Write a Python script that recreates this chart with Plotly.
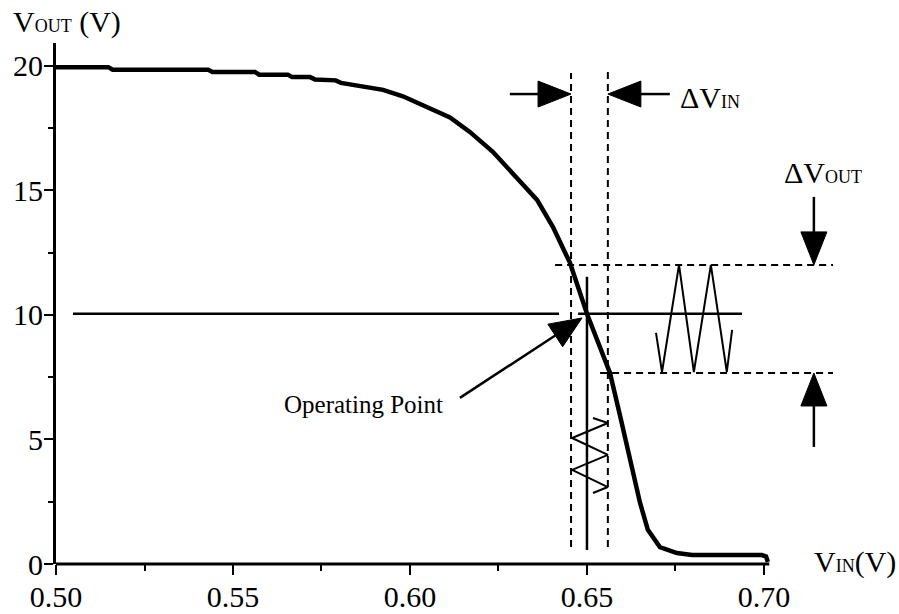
import math
import plotly.graph_objects as go

# ---------------- data ----------------
vin = [0.500, 0.5148, 0.5160, 0.5430, 0.5442, 0.5562, 0.5574, 0.5655, 0.5667,
       0.5718, 0.5732, 0.5790, 0.5805, 0.5859, 0.5924, 0.5980, 0.6028, 0.6113,
       0.6169, 0.6234, 0.6302, 0.6359, 0.6404, 0.6452, 0.6500, 0.6565, 0.6593,
       0.6621, 0.6650, 0.6672, 0.6706, 0.6754, 0.6797, 0.6994, 0.7006, 0.7011]
vout = [19.95, 19.95, 19.85, 19.85, 19.76, 19.76, 19.65, 19.65, 19.55,
        19.55, 19.45, 19.42, 19.32, 19.18, 19.04, 18.78, 18.48, 17.93,
        17.35, 16.55, 15.50, 14.62, 13.53, 12.09, 10.05, 7.67, 5.98,
        4.30, 2.45, 1.37, 0.68, 0.44, 0.36, 0.36, 0.30, 0.08]

x_tickvals = [0.50, 0.55, 0.60, 0.65, 0.70]
x_ticktext = ["0.50", "0.55", "0.60", "0.65", "0.70"]
x_minor = [0.525, 0.575, 0.625, 0.675]
y_tickvals = [0, 5, 10, 15, 20]
y_ticktext = ["0", "5", "10", "15", "20"]
y_minor = [2.5, 7.5, 12.5, 17.5]

# operating point and swing limits
op_vin = 0.65
op_vout = 10.05
dvin_lo, dvin_hi = 0.6455, 0.6559
dvout_lo, dvout_hi = 7.67, 12.01

# small-signal input wave (drawn along the input axis) and output wave
in_wave_x = [0.6517, 0.6559, 0.6458, 0.6559, 0.6458, 0.6559, 0.6517]
in_wave_y = [5.86, 5.66, 5.06, 4.38, 3.78, 3.09, 2.85]
out_wave_x = [0.6695, 0.6712, 0.6760, 0.6802, 0.6850, 0.6895, 0.6910]
out_wave_y = [9.28, 7.71, 12.01, 7.71, 12.01, 7.71, 9.40]

# ---------------- geometry ----------------
W, H = 899, 614
ML, MR, MT, MB = 56, 43, 43, 50
X_RANGE = [0.50, 0.726]
Y_RANGE = [0.0, 20.92]
PW, PH = W - ML - MR, H - MT - MB
kx = PW / (X_RANGE[1] - X_RANGE[0])   # px per volt (x)
ky = PH / (Y_RANGE[1] - Y_RANGE[0])   # px per volt (y)

FONT = "Liberation Serif, Times New Roman, serif"
BLACK = "black"

fig = go.Figure()


def add_line(xs, ys, width=2.5, dash=None):
    fig.add_trace(go.Scatter(x=xs, y=ys, mode="lines",
                             line=dict(color=BLACK, width=width, dash=dash),
                             hoverinfo="skip", showlegend=False))


def add_arrow(tip_x, tip_y, start_x, start_y, head_len=33, head_hw=13, width=2.5):
    dxp = (tip_x - start_x) * kx
    dyp = (tip_y - start_y) * ky
    n = math.hypot(dxp, dyp)
    ux, uy = dxp / n, dyp / n
    bx = tip_x - ux * head_len / kx
    by = tip_y - uy * head_len / ky
    c1 = (bx - uy * head_hw / kx, by + ux * head_hw / ky)
    c2 = (bx + uy * head_hw / kx, by - ux * head_hw / ky)
    add_line([start_x, bx], [start_y, by], width=width)
    fig.add_trace(go.Scatter(x=[tip_x, c1[0], c2[0], tip_x], y=[tip_y, c1[1], c2[1], tip_y],
                             mode="lines", fill="toself", fillcolor=BLACK,
                             line=dict(color=BLACK, width=1),
                             hoverinfo="skip", showlegend=False))


DASH = "7px,5px"

# dashed guide lines
add_line([dvin_lo, dvin_lo], [0.68, 19.72], width=2, dash=DASH)
add_line([dvin_hi, dvin_hi], [0.68, 19.96], width=2, dash=DASH)
add_line([0.6410, 0.7195], [dvout_hi, dvout_hi], width=2, dash=DASH)
add_line([0.6537, 0.7195], [dvout_lo, dvout_lo], width=2, dash=DASH)

# operating point cross-hair
add_line([0.5048, 0.6421], [op_vout, op_vout], width=2.5)
add_line([0.6475, 0.6938], [op_vout, op_vout], width=2.5)
add_line([op_vin, op_vin], [0.56, 11.53], width=2.5)

# small-signal waves
add_line(in_wave_x, in_wave_y, width=2)
add_line(out_wave_x, out_wave_y, width=2)

# transfer curve
add_line(vin, vout, width=4.5)

# arrows
arrow_y_in = 18.87
add_arrow(dvin_lo, arrow_y_in, 0.6282, arrow_y_in)
add_arrow(dvin_hi, arrow_y_in, 0.6734, arrow_y_in)
arrow_x_out = 0.7141
add_arrow(arrow_x_out, dvout_hi, arrow_x_out, 14.74)
add_arrow(arrow_x_out, dvout_lo, arrow_x_out, 4.70)
add_arrow(0.6486, 9.88, 0.6141, 6.67, head_len=32, head_hw=13.5)


def px_x(p):
    # figure pixel -> paper (plot-area) fraction
    return (p - ML) / PW


def px_y(p):
    return (H - MB - p) / PH


# x axis line (only up to the end of the data range)
x_axis_end = 0.7015
fig.add_shape(type="line", xref="paper", yref="paper",
              x0=0, x1=(x_axis_end - X_RANGE[0]) / (X_RANGE[1] - X_RANGE[0]),
              y0=0, y1=0, line=dict(color=BLACK, width=3))

BIG = 30
SMALL = 18


def label(text, left_px, baseline_px, size=BIG):
    center = baseline_px - 0.3375 * size
    fig.add_annotation(text=text, xref="paper", yref="paper",
                       x=px_x(left_px - 1), y=px_y(center),
                       xanchor="left", yanchor="middle", showarrow=False,
                       font=dict(family=FONT, size=size, color=BLACK))


sm = f"<span style='font-size:{SMALL}px'>"
label("V" + sm + "OUT</span> (V)", 12, 32)
label("ΔV" + sm + "IN</span>", 679, 108)
label("ΔV" + sm + "OUT</span>", 783, 183)
label("V" + sm + "IN</span>(V)", 813, 572)
label("Operating Point", 283, 413, size=25)

fig.update_layout(
    width=W, height=H,
    margin=dict(l=ML, r=MR, t=MT, b=MB, pad=0, autoexpand=False),
    paper_bgcolor="white", plot_bgcolor="white",
    showlegend=False,
    font=dict(family=FONT, color=BLACK),
    xaxis=dict(range=X_RANGE, showline=False, showgrid=False, zeroline=False,
               automargin=False,
               tickmode="array", tickvals=x_tickvals, ticktext=x_ticktext,
               ticks="outside", ticklen=10, tickwidth=2, tickcolor=BLACK,
               ticklabelstandoff=-4,
               tickfont=dict(family=FONT, size=BIG, color=BLACK),
               minor=dict(tickmode="array", tickvals=x_minor, ticks="outside",
                          ticklen=6, tickwidth=2, tickcolor=BLACK, showgrid=False)),
    yaxis=dict(range=Y_RANGE, showline=True, linewidth=3, linecolor=BLACK,
               showgrid=False, zeroline=False, automargin=False,
               tickmode="array", tickvals=y_tickvals, ticktext=y_ticktext,
               ticks="outside", ticklen=9, tickwidth=2, tickcolor=BLACK,
               ticklabelstandoff=-5,
               tickfont=dict(family=FONT, size=BIG, color=BLACK),
               minor=dict(tickmode="array", tickvals=y_minor, ticks="outside",
                          ticklen=5, tickwidth=2, tickcolor=BLACK, showgrid=False)),
)

fig.write_html("out.html", config={"displayModeBar": False},
               post_script="document.body.style.margin='0';document.body.style.overflow='hidden';")
